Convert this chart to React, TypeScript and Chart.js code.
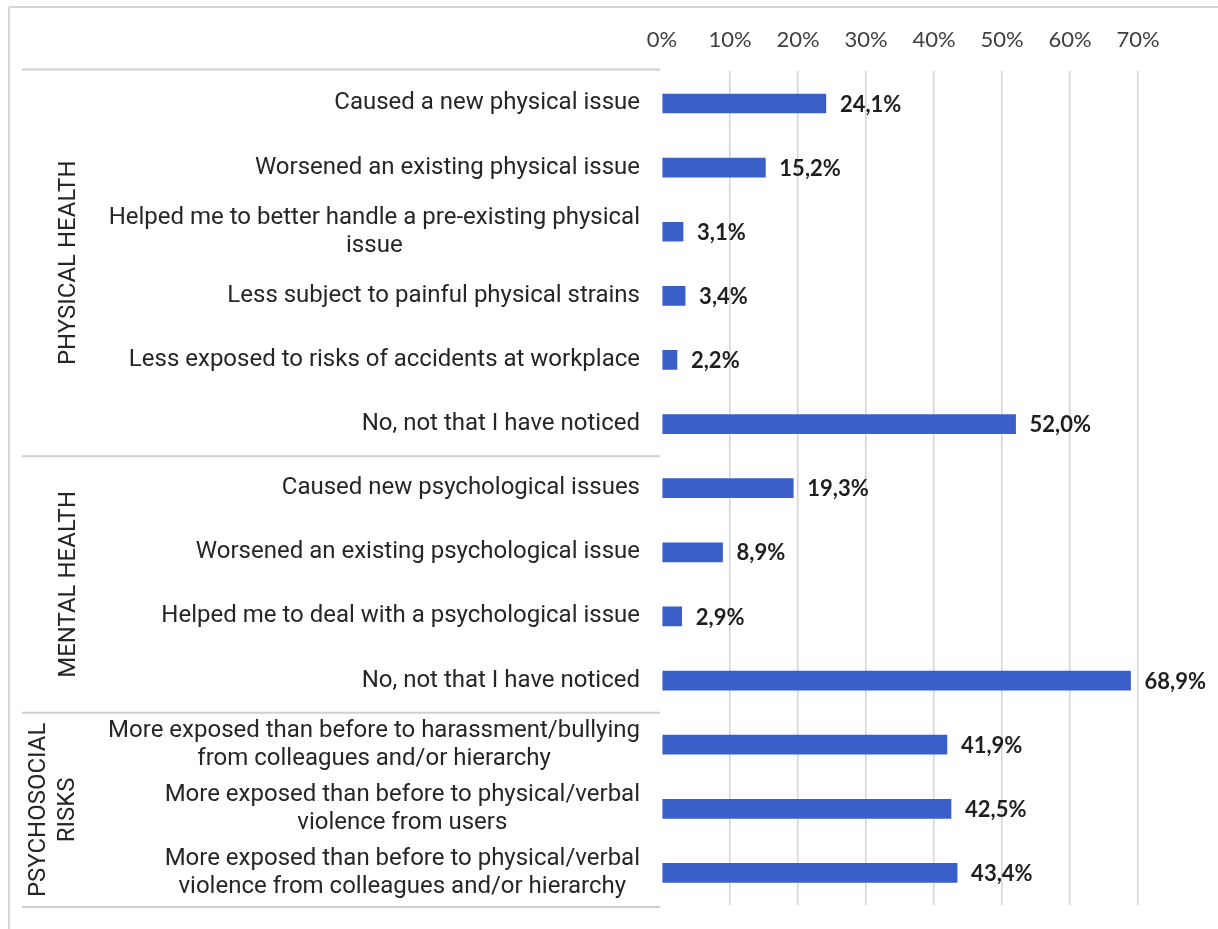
import React, { useEffect, useRef } from 'react';
import { Chart, registerables } from 'chart.js';

Chart.register(...registerables);

const categories: (string | string[])[] = [
  'Caused a new physical issue',
  'Worsened an existing physical issue',
  ['Helped me to better handle a pre-existing physical', 'issue'],
  'Less subject to painful physical strains',
  'Less exposed to risks of accidents at workplace',
  'No, not that I have noticed',
  'Caused new psychological issues',
  'Worsened an existing psychological issue',
  'Helped me to deal with a psychological issue',
  'No, not that I have noticed',
  ['More exposed than before to harassment/bullying', 'from colleagues and/or hierarchy'],
  ['More exposed than before to physical/verbal', 'violence from users'],
  ['More exposed than before to physical/verbal', 'violence from colleagues and/or hierarchy'],
];

const values: number[] = [24.1, 15.2, 3.1, 3.4, 2.2, 52.0, 19.3, 8.9, 2.9, 68.9, 41.9, 42.5, 43.4];

const groupNames: string[][] = [['PHYSICAL HEALTH'], ['MENTAL HEALTH'], ['PSYCHOSOCIAL', 'RISKS']];
const groupFirst: number[] = [0, 6, 10];
const groupLast: number[] = [5, 9, 12];

const xTicks: number[] = [0, 10, 20, 30, 40, 50, 60, 70];

const fmt = (v: number) => v.toFixed(1).replace('.', ',') + '%';

const decorPlugin = {
  id: 'decor',
  afterDraw(chart: any) {
    const { ctx, chartArea } = chart;
    const ys = chart.scales.y;
    const W = chart.width;
    const H = chart.height;
    ctx.save();

    // outer frame lines
    ctx.strokeStyle = '#d6d6d6';
    ctx.lineWidth = 2;
    ctx.beginPath();
    ctx.moveTo(9, 7);
    ctx.lineTo(W, 7);
    ctx.moveTo(9, 7);
    ctx.lineTo(9, H);
    ctx.stroke();

    // category labels
    ctx.fillStyle = '#262626';
    ctx.font = '24px Roboto';
    ctx.textBaseline = 'middle';
    ctx.textAlign = 'center';
    const labelRight = chartArea.left - 22;
    categories.forEach((c, i) => {
      const lines = Array.isArray(c) ? c : [c];
      const y = ys.getPixelForValue(i);
      const widest = Math.max(...lines.map((l) => ctx.measureText(l).width));
      const cx = labelRight - widest / 2;
      lines.forEach((l, k) => {
        ctx.fillText(l, cx, y + (k - (lines.length - 1) / 2) * 28);
      });
    });

    // separators
    const bounds: number[] = [chartArea.top - 2];
    for (let g = 1; g < groupFirst.length; g++) {
      bounds.push((ys.getPixelForValue(groupLast[g - 1]) + ys.getPixelForValue(groupFirst[g])) / 2);
    }
    bounds.push(chartArea.bottom + 2);
    ctx.strokeStyle = '#d0d0d0';
    ctx.lineWidth = 2;
    ctx.beginPath();
    bounds.forEach((b) => {
      ctx.moveTo(22, b);
      ctx.lineTo(chartArea.left - 2, b);
    });
    ctx.stroke();

    // group labels (rotated)
    ctx.fillStyle = '#262626';
    ctx.font = '24px Roboto';
    groupNames.forEach((lines, g) => {
      const cy = (bounds[g] + bounds[g + 1]) / 2;
      const baseX = lines.length === 1 ? 69 : 53;
      lines.forEach((l, k) => {
        const x = baseX + (k - (lines.length - 1) / 2) * 29;
        ctx.save();
        ctx.translate(x, cy);
        ctx.rotate(-Math.PI / 2);
        ctx.textAlign = 'center';
        ctx.textBaseline = 'middle';
        ctx.fillText(l, 0, 0);
        ctx.restore();
      });
    });

    // value labels
    const meta = chart.getDatasetMeta(0);
    ctx.font = 'bold 22px Lato';
    ctx.fillStyle = '#1f1f1f';
    ctx.textAlign = 'left';
    ctx.textBaseline = 'middle';
    meta.data.forEach((el: any, i: number) => {
      ctx.fillText(fmt(values[i]), el.x + 14, el.y + 1);
    });

    ctx.restore();
  },
};

export default function App() {
  const ref = useRef<HTMLCanvasElement | null>(null);
  useEffect(() => {
    if (!ref.current) return;
    const chart = new Chart(ref.current, {
      type: 'bar',
      data: {
        labels: categories.map((c) => (Array.isArray(c) ? c.join(' ') : c)),
        datasets: [
          {
            data: values,
            backgroundColor: '#3b5fc9',
            borderColor: '#3457c0',
            borderWidth: 0,
            barThickness: 19,
          },
        ],
      },
      options: {
        indexAxis: 'y',
        responsive: false,
        animation: false,
        events: [],
        layout: { padding: { left: 662, right: 80, top: 9, bottom: 24 } },
        plugins: {
          legend: { display: false },
          tooltip: { enabled: false },
          title: { display: false },
        },
        scales: {
          x: {
            position: 'top',
            min: 0,
            max: 70,
            afterBuildTicks: (scale: any) => {
              scale.ticks = xTicks.map((v) => ({ value: v }));
            },
            ticks: {
              callback: (v: any) => v + '%',
              font: { family: 'Lato', size: 22 },
              color: '#404040',
              padding: 18,
              maxRotation: 0,
            },
            grid: {
              drawTicks: false,
              color: (c: any) => (c.tick && c.tick.value === 0 ? 'rgba(0,0,0,0)' : '#d4d4d4'),
              lineWidth: 1.5,
            },
            border: { display: false },
          },
          y: {
            display: false,
          },
        },
      },
      plugins: [decorPlugin],
    });
    return () => chart.destroy();
  }, []);
  return (
    <div style={{ position: 'absolute', left: 0, top: 0, width: 1218, height: 929, background: '#fff' }}>
      <canvas ref={ref} width={1218} height={929} style={{ display: 'block' }} />
    </div>
  );
}
